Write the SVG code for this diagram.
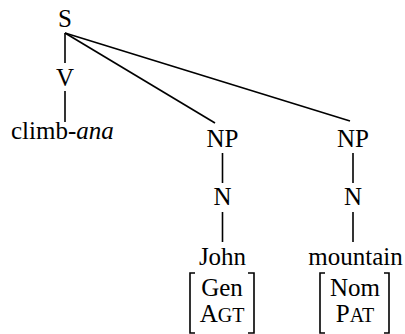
<svg xmlns="http://www.w3.org/2000/svg" width="405" height="334" viewBox="0 0 405 334">
<style>
.e{stroke:#000;stroke-width:1.6;fill:none}
</style>
<rect width="405" height="334" fill="#fff"/>
<g id="connectors" class="e">
<line x1="65" y1="33" x2="65" y2="63"/>
<line x1="65" y1="91" x2="65" y2="122"/>
<line x1="65" y1="33" x2="215" y2="123"/>
<line x1="65" y1="33" x2="350" y2="121"/>
<line x1="222.5" y1="153" x2="222.5" y2="183"/>
<line x1="222.5" y1="212" x2="222.5" y2="242"/>
<line x1="353" y1="153" x2="353" y2="183"/>
<line x1="353" y1="212" x2="353" y2="242"/>
</g>
<g font-family="Liberation Serif, serif" font-size="25" fill="#000" text-anchor="middle">
<g id="S"><text x="65" y="27">S</text></g>
<g id="V"><text x="65" y="86">V</text></g>
<g id="climb"><text x="11" y="139" text-anchor="start">climb-<tspan font-style="italic">ana</tspan></text></g>
<g id="NP1"><text x="222.5" y="147">NP</text></g>
<g id="N1"><text x="222.5" y="205">N</text></g>
<g id="John"><text x="222.5" y="265">John</text>
<path class="e" d="M195,273 H190 V333 H195"/><path class="e" d="M248,273 H254 V333 H248"/>
<text x="222" y="296">Gen</text>
<text x="222" y="322">A<tspan font-size="20">GT</tspan></text></g>
<g id="NP2"><text x="353" y="147">NP</text></g>
<g id="N2"><text x="353" y="205">N</text></g>
<g id="mountain"><text x="355.5" y="265">mountain</text>
<path class="e" d="M325,273 H320 V333 H325"/><path class="e" d="M384,273 H389 V333 H384"/>
<text x="355" y="296">Nom</text>
<text x="355" y="322">P<tspan font-size="20">AT</tspan></text></g>
</g>
</svg>
